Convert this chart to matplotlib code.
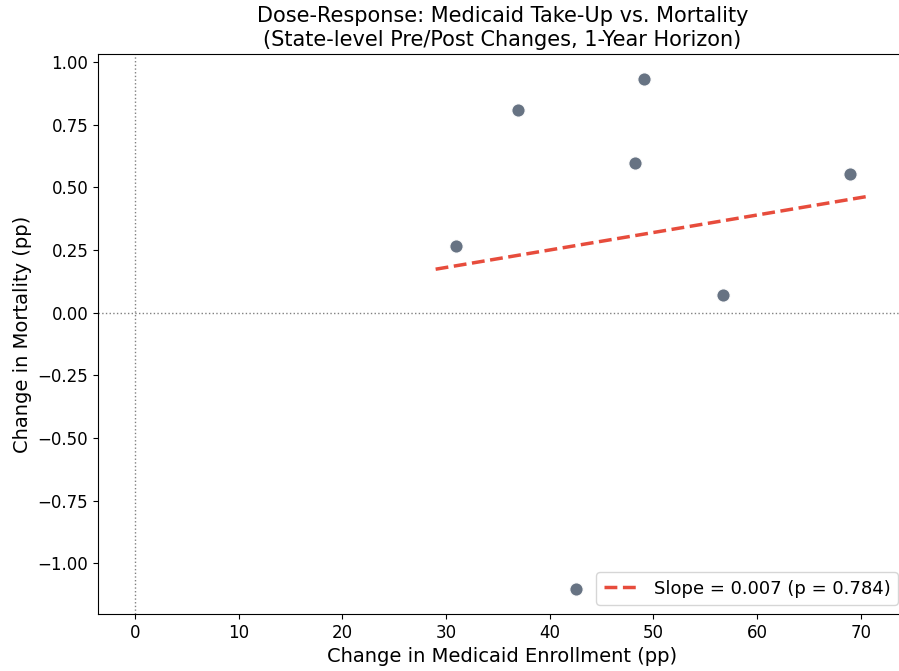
import numpy as np
import matplotlib.pyplot as plt

# state-level pre/post changes, 1-year horizon
enroll_change = [31.0, 36.9, 42.5, 48.2, 49.1, 56.7, 68.9]
mortality_change = [0.265, 0.81, -1.10, 0.595, 0.93, 0.07, 0.552]
fit_label = "Slope = 0.007 (p = 0.784)"

x = np.array(enroll_change)
y = np.array(mortality_change)
slope, intercept = np.polyfit(x, y, 1)
xs = np.linspace(x.min() - 2, x.max() + 2, 50)

fig = plt.figure(figsize=(8.99, 6.71), dpi=100)
ax = fig.add_axes([0.109, 0.085, 0.9, 0.8345])

ax.scatter(x, y, s=95, color="#5f6b7c", edgecolor="white", linewidth=1, alpha=0.95, zorder=3)
ax.plot(xs, slope * xs + intercept, color="#e74c3c", linestyle="--", linewidth=2.5, label=fit_label, zorder=2)
ax.axhline(0, color="gray", linestyle=":", linewidth=1)
ax.axvline(0, color="gray", linestyle=":", linewidth=1)

ax.set_xlim(-3.55, 74.45)
ax.set_ylim(-1.2015, 1.0315)
ax.set_xlabel("Change in Medicaid Enrollment (pp)", fontsize=14)
ax.set_ylabel("Change in Mortality (pp)", fontsize=14)
ax.set_title("Dose-Response: Medicaid Take-Up vs. Mortality\n(State-level Pre/Post Changes, 1-Year Horizon)",
             fontsize=15)
ax.tick_params(labelsize=12)
ax.legend(loc="lower right", fontsize=13)

fig.savefig("out.png", dpi=100)
